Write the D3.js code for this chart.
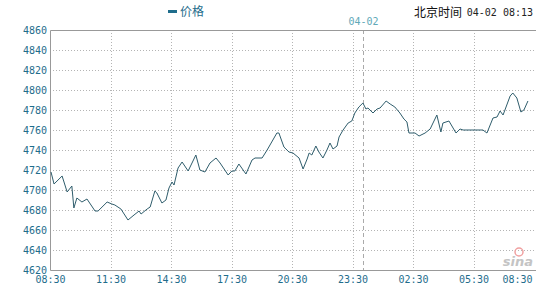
<!DOCTYPE html>
<html>
<head>
<meta charset="utf-8">
<script src="https://cdn.jsdelivr.net/npm/d3@7"></script>
<style>
  body { margin: 0; background: #fff; }
  svg { display: block; }
</style>
</head>
<body>
<div id="chart"></div>
<script>
// price series (04-01 08:30 -> 04-02 08:13)
const times = [
  "04-01 08:33", "04-01 08:42", "04-01 09:06", "04-01 09:21", "04-01 09:35", "04-01 09:41",
  "04-01 09:50", "04-01 10:05", "04-01 10:20", "04-01 10:44", "04-01 10:53", "04-01 11:20",
  "04-01 11:34", "04-01 11:43", "04-01 12:01", "04-01 12:22", "04-01 12:40", "04-01 12:55",
  "04-01 13:01", "04-01 13:19", "04-01 13:28", "04-01 13:42", "04-01 13:48", "04-01 14:03",
  "04-01 14:15", "04-01 14:24", "04-01 14:33", "04-01 14:39", "04-01 14:51", "04-01 15:03",
  "04-01 15:21", "04-01 15:44", "04-01 15:56", "04-01 16:11", "04-01 16:26", "04-01 16:44",
  "04-01 16:56", "04-01 17:20", "04-01 17:31", "04-01 17:40", "04-01 17:52", "04-01 18:13",
  "04-01 18:31", "04-01 18:40", "04-01 19:01", "04-01 19:16", "04-01 19:45", "04-01 19:51",
  "04-01 20:06", "04-01 20:21", "04-01 20:33", "04-01 20:51", "04-01 21:03", "04-01 21:15",
  "04-01 21:21", "04-01 21:29", "04-01 21:41", "04-01 21:50", "04-01 22:02", "04-01 22:14",
  "04-01 22:23", "04-01 22:32", "04-01 22:44", "04-01 22:50", "04-01 23:02", "04-01 23:17",
  "04-01 23:28", "04-01 23:37", "04-01 23:49", "04-02 00:01", "04-02 00:10", "04-02 00:16",
  "04-02 00:31", "04-02 00:43", "04-02 00:52", "04-02 01:10", "04-02 01:22", "04-02 01:36",
  "04-02 01:51", "04-02 02:03", "04-02 02:12", "04-02 02:18", "04-02 02:36", "04-02 02:48",
  "04-02 03:06", "04-02 03:21", "04-02 03:41", "04-02 03:53", "04-02 03:59", "04-02 04:17",
  "04-02 04:38", "04-02 04:50", "04-02 04:59", "04-02 05:58", "04-02 06:10", "04-02 06:28",
  "04-02 06:40", "04-02 06:49", "04-02 06:58", "04-02 07:19", "04-02 07:27", "04-02 07:39",
  "04-02 07:51", "04-02 08:00", "04-02 08:12"
];
const prices = [
  4718, 4706, 4714, 4698, 4704, 4682,
  4692, 4688, 4691, 4679, 4679, 4688,
  4686, 4685, 4681, 4670, 4675, 4679,
  4676, 4681, 4683, 4699, 4697, 4687,
  4690, 4702, 4708, 4705, 4722, 4728,
  4719, 4735, 4720, 4718, 4727, 4732,
  4727, 4715, 4719, 4719, 4726, 4716,
  4730, 4732, 4732, 4740, 4757, 4757,
  4743, 4738, 4737, 4732, 4721, 4731,
  4737, 4735, 4744, 4738, 4732, 4740,
  4747, 4741, 4744, 4753, 4760, 4767,
  4769, 4777, 4783, 4787, 4781, 4782,
  4777, 4781, 4782, 4789, 4786, 4783,
  4777, 4771, 4768, 4757, 4757, 4754,
  4757, 4761, 4775, 4758, 4767, 4769,
  4757, 4761, 4760, 4760, 4757, 4772,
  4773, 4779, 4775, 4794, 4797, 4792,
  4778, 4780, 4789
];
const xTicks = [
  "04-01 08:30", "04-01 11:30", "04-01 14:30", "04-01 17:30", "04-01 20:30",
  "04-01 23:30", "04-02 02:30", "04-02 05:30", "04-02 08:30"
];
const yTicks = [4620, 4640, 4660, 4680, 4700, 4720, 4740, 4760, 4780, 4800, 4820, 4840, 4860];
const dayBreak = "04-02 00:00";
const dayLabel = "04-02";
const seriesName = "价格";
const clockLabel = "北京时间";
const clockValue = "04-02 08:13";

const width = 540;
const height = 286;
const margin = { top: 30, right: 6, bottom: 16, left: 50 };

const parse = d3.timeParse("%m-%d %H:%M");
const fmt = d3.timeFormat("%H:%M");
const data = times.map((t, i) => ({ t: parse(t), v: prices[i] }));

const x = d3.scaleTime()
  .domain([parse(xTicks[0]), parse(xTicks[xTicks.length - 1])])
  .range([margin.left, width - margin.right]);
const y = d3.scaleLinear()
  .domain([yTicks[0], yTicks[yTicks.length - 1]])
  .range([height - margin.bottom, margin.top]);

const svg = d3.select("#chart")
  .append("svg")
  .attr("width", width)
  .attr("height", height);

const tickColor = "#1f6d8c";
const monoFont = "'DejaVu Sans Mono', monospace";

// grid
svg.append("g")
  .selectAll("line")
  .data(yTicks.slice(1, -1))
  .join("line")
  .attr("x1", margin.left)
  .attr("x2", width - 4)
  .attr("y1", (d) => y(d) + 0.5)
  .attr("y2", (d) => y(d) + 0.5)
  .attr("stroke", "#b4b4b4")
  .attr("stroke-dasharray", "1,2");

svg.append("g")
  .selectAll("line")
  .data(xTicks.slice(1, -1))
  .join("line")
  .attr("x1", (d) => Math.round(x(parse(d))) + 0.5)
  .attr("x2", (d) => Math.round(x(parse(d))) + 0.5)
  .attr("y1", margin.top)
  .attr("y2", height - margin.bottom)
  .attr("stroke", "#b4b4b4")
  .attr("stroke-dasharray", "1,2");

// day break
const xb = Math.round(x(parse(dayBreak))) + 0.5;
svg.append("line")
  .attr("x1", xb).attr("x2", xb)
  .attr("y1", margin.top).attr("y2", height - margin.bottom)
  .attr("stroke", "#aaa")
  .attr("stroke-dasharray", "4,3");
svg.append("text")
  .attr("x", xb)
  .attr("y", 25)
  .attr("text-anchor", "middle")
  .attr("font-family", monoFont)
  .attr("font-size", 10)
  .attr("fill", "#5fa9b8")
  .text(dayLabel);

// frame
const frame = svg.append("g").attr("stroke", "#999").attr("fill", "none");
frame.append("path")
  .attr("d", `M${width - 4},${margin.top + 0.5}H${margin.left + 0.5}V${height - margin.bottom + 0.5}H${width - 4}`);

// axes
svg.append("g")
  .attr("transform", `translate(${margin.left - 3},0)`)
  .call(d3.axisLeft(y).tickValues(yTicks).tickSize(0).tickPadding(0).tickFormat(d3.format("d")))
  .call((g) => g.select(".domain").remove())
  .call((g) => g.selectAll("text")
    .attr("font-family", monoFont)
    .attr("font-size", 10)
    .attr("fill", tickColor));

svg.append("g")
  .attr("transform", `translate(0,${height - margin.bottom})`)
  .call(d3.axisBottom(x).tickValues(xTicks.map(parse)).tickSize(0).tickPadding(6).tickFormat(fmt))
  .call((g) => g.select(".domain").remove())
  .call((g) => g.selectAll("text")
    .attr("font-family", monoFont)
    .attr("font-size", 10)
    .attr("fill", tickColor))
  .call((g) => g.selectAll(".tick:last-child text")
    .attr("text-anchor", "end")
    .attr("dx", 0)
    .attr("x", width - x(parse(xTicks[xTicks.length - 1])) - 8));

// price line
svg.append("path")
  .datum(data)
  .attr("fill", "none")
  .attr("stroke", "#2f5d6c")
  .attr("stroke-width", 1)
  .attr("d", d3.line().x((d) => x(d.t)).y((d) => y(d.v)));

// legend
svg.append("rect")
  .attr("x", 168).attr("y", 10)
  .attr("width", 9).attr("height", 3)
  .attr("fill", "#1f6d8c");
svg.append("text")
  .attr("x", 180).attr("y", 16)
  .attr("font-family", "'Noto Sans CJK SC', sans-serif")
  .attr("font-size", 12)
  .attr("fill", tickColor)
  .text(seriesName);

// clock
svg.append("text")
  .attr("x", 414).attr("y", 17)
  .attr("font-family", "'Noto Sans CJK SC', sans-serif")
  .attr("font-size", 12)
  .attr("fill", "#111")
  .text(clockLabel);
svg.append("text")
  .attr("x", 533).attr("y", 16)
  .attr("text-anchor", "end")
  .attr("font-family", monoFont)
  .attr("font-size", 10)
  .attr("fill", "#222")
  .text(clockValue);

// watermark
svg.append("circle")
  .attr("cx", 519).attr("cy", 252).attr("r", 4)
  .attr("fill", "none").attr("stroke", "#f0a0a0").attr("stroke-width", 1.5);
svg.append("text")
  .attr("x", 533).attr("y", 266)
  .attr("text-anchor", "end")
  .attr("font-family", "'DejaVu Sans', sans-serif")
  .attr("font-style", "italic")
  .attr("font-weight", "bold")
  .attr("font-size", 13)
  .attr("fill", "#c4c4c4")
  .text("sina");
</script>
</body>
</html>
